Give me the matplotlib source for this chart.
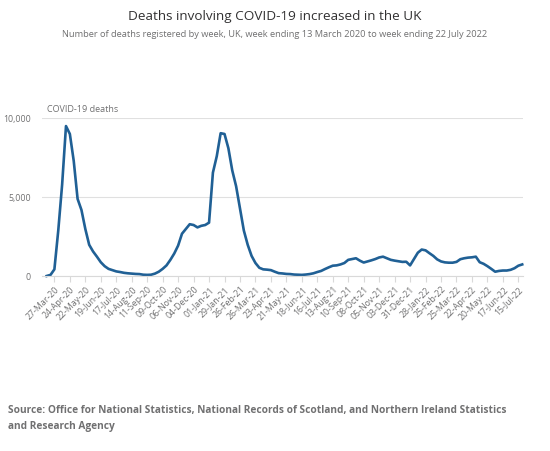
"""UK weekly deaths involving COVID-19, March 2020 to July 2022."""

import matplotlib

matplotlib.use("Agg")
import matplotlib.pyplot as plt
from matplotlib.ticker import FuncFormatter

# week ending 13-Mar-20 onwards, one value per week
deaths = [
    30, 100, 450, 2900, 5800, 9500, 9000, 7300, 4900, 4200,
    3000, 2000, 1580, 1250, 900, 650, 480, 400, 320, 280,
    230, 200, 180, 160, 150, 110, 100, 110, 180, 300,
    480, 700, 1050, 1450, 1950, 2700, 3000, 3300, 3250, 3100,
    3200, 3250, 3400, 6560, 7600, 9050, 9000, 8100, 6700, 5700,
    4300, 2900, 2000, 1300, 850, 550, 450, 430, 400, 300,
    210, 190, 160, 150, 120, 110, 100, 120, 150, 200,
    280, 350, 470, 580, 680, 700, 760, 850, 1050, 1100,
    1150, 1000, 880, 950, 1020, 1100, 1200, 1250, 1150, 1050,
    1000, 960, 920, 930, 700, 1100, 1500, 1700, 1650, 1470,
    1300, 1080, 950, 890, 870, 870, 920, 1090, 1150, 1190,
    1210, 1250, 900, 800, 650, 480, 300, 350, 375, 375,
    420, 520, 680, 760,
]

tick_labels = [
    "27-Mar-20", "24-Apr-20", "22-May-20", "19-Jun-20", "17-Jul-20",
    "14-Aug-20", "11-Sep-20", "09-Oct-20", "06-Nov-20", "04-Dec-20",
    "01-Jan-21", "29-Jan-21", "26-Feb-21", "26-Mar-21", "23-Apr-21",
    "21-May-21", "18-Jun-21", "16-Jul-21", "13-Aug-21", "10-Sep-21",
    "08-Oct-21", "05-Nov-21", "03-Dec-21", "31-Dec-21", "28-Jan-22",
    "25-Feb-22", "25-Mar-22", "22-Apr-22", "20-May-22", "17-Jun-22",
    "15-Jul-22",
]
tick_weeks = list(range(2, 2 + 4 * len(tick_labels), 4))

plt.rcParams["font.family"] = ["Open Sans", "DejaVu Sans"]
grey = "#707071"

fig = plt.figure(figsize=(5.5, 4.51), dpi=100)
ax = fig.add_axes([0.0764, 0.387, 0.8745, 0.351])

weeks = list(range(len(deaths)))
ax.plot(weeks, deaths, color="#206095", linewidth=1.9, clip_on=False,
        solid_joinstyle="round")

ax.set_xlim(-1.2, 123.2)
ax.set_ylim(0, 10000)
ax.set_yticks([0, 5000, 10000])
ax.yaxis.set_major_formatter(FuncFormatter(lambda v, _: f"{int(v):,}"))
ax.tick_params(axis="y", length=0, labelsize=6.3, labelcolor=grey, pad=8)
ax.grid(axis="y", color="#e0e0e0", linewidth=0.8)
ax.set_axisbelow(True)

ax.set_xticks(tick_weeks)
ax.set_xticklabels(tick_labels, rotation=45, ha="right", rotation_mode="anchor")
ax.tick_params(axis="x", length=4, color="#d9d9d9", labelsize=6.3,
               labelcolor=grey, pad=2)

for side in ("top", "right", "left"):
    ax.spines[side].set_visible(False)
ax.spines["bottom"].set_color("#d9d9d9")

fig.text(0.0855, 0.752, "COVID-19 deaths", fontsize=6.5, color=grey)
fig.text(0.5, 0.963, "Deaths involving COVID-19 increased in the UK",
         ha="center", va="center", fontsize=9.7, color="#323132")
fig.text(0.5, 0.924,
         "Number of deaths registered by week, UK, week ending 13 March 2020 "
         "to week ending 22 July 2022",
         ha="center", va="center", fontsize=6.7, color=grey)
fig.text(0.014, 0.072,
         "Source: Office for National Statistics, National Records of Scotland, "
         "and Northern Ireland Statistics\nand Research Agency",
         ha="left", va="center", fontsize=7.25, color=grey, fontweight="bold",
         linespacing=1.55)

fig.savefig("out.png", dpi=100)
